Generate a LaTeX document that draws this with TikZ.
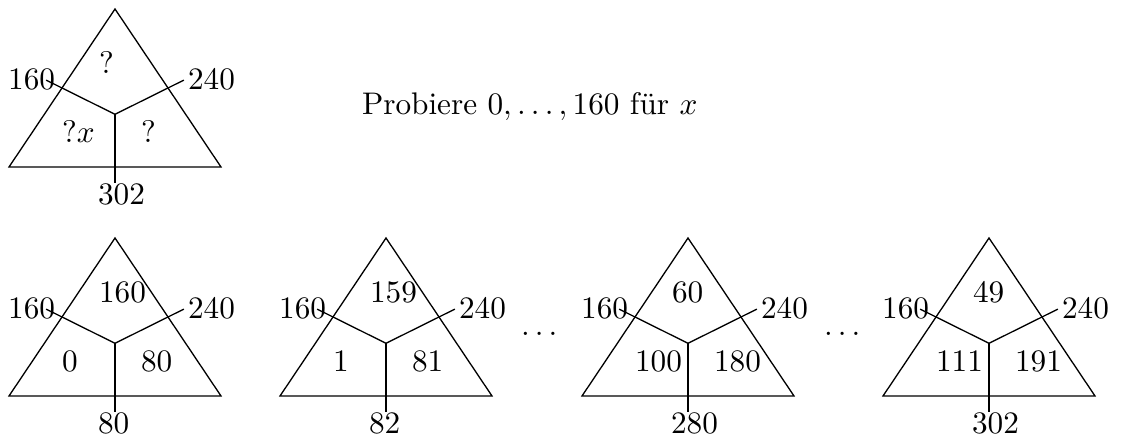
\documentclass[tikz,border=0pt]{standalone}
\begin{document}
\begin{tikzpicture}[x=0.32pt,y=-0.32pt,
  lab/.style={inner sep=0pt, outer sep=0pt},
  edge/.style={line width=0.42pt}]
\useasboundingbox (0,0) rectangle (1128,436);
\newcommand\triblock[9]{%
  \coordinate (#1a) at ({#2},{#3});
  \coordinate (#1l) at ({#2-106},{#3+158});
  \coordinate (#1r) at ({#2+106},{#3+158});
  \coordinate (#1c) at ({#2},{#3+105.3});
  \coordinate (#1el) at ({#2-68.9},{#3+71.1});
  \coordinate (#1er) at ({#2+68.9},{#3+71.1});
  \coordinate (#1eb) at ({#2},{#3+173.8});
  \draw[edge] (#1a) -- (#1l) -- (#1r) -- cycle;
  \draw[edge] (#1el) -- (#1c) -- (#1er);
  \draw[edge] (#1c) -- (#1eb);
  \node[lab, anchor=base west] (#1top) at ({#2-16},{#3+65}) {#4};
  \node[lab, anchor=base west] (#1ll) at ({#2-53},{#3+134}) {#5};
  \node[lab, anchor=base west] (#1lr) at ({#2+26},{#3+134}) {#6};
  \node[lab, anchor=base east] (#1L) at ({#2-60},{#3+81}) {#7};
  \node[lab, anchor=base west] (#1R) at ({#2+73},{#3+81}) {#8};
  \node[lab, anchor=base west] (#1B) at ({#2-17},{#3+195.5}) {#9};
}
\triblock{A}{115}{9}{?}{?$x$}{?}{160}{240}{302}
\node[lab, anchor=base west] (probe) at (362,115) {Probiere $0,\ldots,160$ f\"ur $x$};
\triblock{B}{115}{238}{160}{0}{80}{160}{240}{80}
\triblock{C}{386}{238}{159}{1}{81}{160}{240}{82}
\triblock{D}{688}{238}{60}{100}{180}{160}{240}{280}
\triblock{E}{989}{238}{49}{111}{191}{160}{240}{302}
\node[lab, anchor=base west] (dots1) at (521,336) {$\ldots$};
\node[lab, anchor=base west] (dots2) at (824,336) {$\ldots$};
\end{tikzpicture}
\end{document}
